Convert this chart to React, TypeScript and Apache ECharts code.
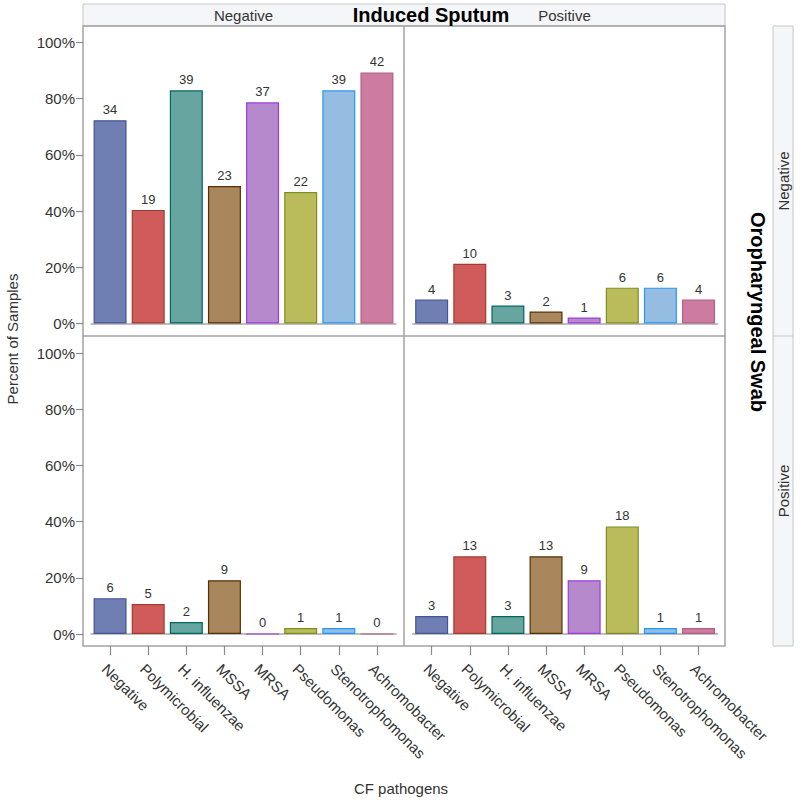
import React, { useEffect, useRef } from "react";
import * as echarts from "echarts";

// ---- Data ----
const categories = [
  "Negative",
  "Polymicrobial",
  "H. influenzae",
  "MSSA",
  "MRSA",
  "Pseudomonas",
  "Stenotrophomonas",
  "Achromobacter",
];
// Oropharyngeal Swab (row) x Induced Sputum (column) counts
const countsSwabNegSputumNeg = [34, 19, 39, 23, 37, 22, 39, 42];
const countsSwabNegSputumPos = [4, 10, 3, 2, 1, 6, 6, 4];
const countsSwabPosSputumNeg = [6, 5, 2, 9, 0, 1, 1, 0];
const countsSwabPosSputumPos = [3, 13, 3, 13, 9, 18, 1, 1];
const yTickValues = [0, 20, 40, 60, 80, 100];
const columnLabels = ["Negative", "Positive"];
const rowLabels = ["Negative", "Positive"];

const fillColors = ["#6F7EB3", "#D05B5B", "#66A5A0", "#A9865B", "#B689CD", "#BABC5C", "#94BDE1", "#CD7BA1"];
const edgeColors = ["#445694", "#A23A2E", "#01665E", "#543005", "#9D3CDB", "#7F8E1F", "#2597FA", "#B26084"];

const FONT = "'Liberation Sans', Arial, Helvetica, sans-serif";

export default function App() {
  const ref = useRef<HTMLDivElement>(null);

  useEffect(() => {
    if (!ref.current) return;
    const chart = echarts.init(ref.current, undefined, { renderer: "svg" });

    const panels = [
      countsSwabNegSputumNeg,
      countsSwabNegSputumPos,
      countsSwabPosSputumNeg,
      countsSwabPosSputumPos,
    ];
    const totals = categories.map((_, i) => panels.reduce((s, p) => s + p[i], 0));

    const panelLeft = 83, panelMid = 404, panelRight = 725;
    const panelTop = 26, panelMidY = 336, panelBottom = 646;

    const gridDefs = [
      { left: 91, top: 42.5, width: 305, height: 281 },
      { left: 412.6, top: 42.5, width: 305, height: 281 },
      { left: 91, top: 353, width: 305, height: 281 },
      { left: 412.6, top: 353, width: 305, height: 281 },
    ];

    const xAxes: any[] = gridDefs.map((_, i) => ({
      type: "category",
      gridIndex: i,
      data: categories,
      boundaryGap: true,
      axisLine: { show: true, lineStyle: { color: "#a9a9a9", width: 1.5 } },
      axisTick: { show: false },
      axisLabel: { show: false },
      splitLine: { show: false },
    }));
    [2, 3].forEach((g) => {
      xAxes.push({
        type: "category",
        gridIndex: g,
        data: categories,
        position: "bottom",
        offset: 12,
        boundaryGap: true,
        axisLine: { show: false },
        axisTick: { show: true, alignWithLabel: true, length: 9, lineStyle: { color: "#8a8a8a", width: 1.2 } },
        axisLabel: {
          show: true,
          interval: 0,
          rotate: -45,
          margin: 15,
          verticalAlign: "top",
          fontSize: 15,
          color: "#333",
          fontFamily: FONT,
        },
        splitLine: { show: false },
      });
    });

    const yAxes = gridDefs.map((_, i) => {
      const isLeft = i % 2 === 0;
      return {
        type: "value",
        gridIndex: i,
        min: yTickValues[0],
        max: yTickValues[yTickValues.length - 1],
        interval: 20,
        offset: isLeft ? 8 : 0,
        axisLine: { show: false },
        splitLine: { show: false },
        axisTick: { show: isLeft, length: 7, lineStyle: { color: "#8a8a8a", width: 1.2 } },
        axisLabel: {
          show: isLeft,
          formatter: "{value}%",
          fontSize: 15,
          color: "#333",
          margin: 8,
          fontFamily: FONT,
        },
      };
    });

    const series = panels.map((counts, i) => ({
      type: "bar",
      xAxisIndex: i,
      yAxisIndex: i,
      barWidth: 33,
      data: counts.map((c, k) => ({
        value: (c / totals[k]) * 100,
        itemStyle: { color: fillColors[k], borderColor: edgeColors[k], borderWidth: 1.2 },
      })),
      label: {
        show: true,
        position: "top",
        distance: 4,
        fontSize: 13,
        color: "#333",
        fontFamily: FONT,
        formatter: (p: any) => String(counts[p.dataIndex]),
      },
    }));

    const frameColor = "#a3a3a3";
    const stripFill = "#f5f6f9";
    const stripStroke = "#c6c6c6";

    const graphic: any[] = [
      // column header strip
      {
        type: "rect",
        shape: { x: panelLeft, y: 4, width: panelRight - panelLeft, height: panelTop - 4 },
        style: { fill: stripFill, stroke: stripStroke, lineWidth: 1 },
      },
      {
        type: "text",
        x: (panelLeft + panelMid) / 2,
        y: 15.5,
        style: { text: columnLabels[0], fill: "#333", font: `15px ${FONT}`, align: "center", verticalAlign: "middle" },
      },
      {
        type: "text",
        x: (panelMid + panelRight) / 2,
        y: 15.5,
        style: { text: columnLabels[1], fill: "#333", font: `15px ${FONT}`, align: "center", verticalAlign: "middle" },
      },
      {
        type: "text",
        x: 431,
        y: 15,
        z: 10,
        style: { text: "Induced Sputum", fill: "#000", font: `bold 20px ${FONT}`, align: "center", verticalAlign: "middle" },
      },
      // right row strip
      {
        type: "rect",
        shape: { x: 773, y: panelTop, width: 20, height: panelBottom - panelTop },
        style: { fill: stripFill, stroke: stripStroke, lineWidth: 1 },
      },
      {
        type: "line",
        shape: { x1: 773, y1: panelMidY, x2: 793, y2: panelMidY },
        style: { stroke: stripStroke, lineWidth: 1 },
      },
      {
        type: "text",
        x: 783.5,
        y: (panelTop + panelMidY) / 2,
        rotation: Math.PI / 2,
        style: { text: rowLabels[0], fill: "#333", font: `15px ${FONT}`, align: "center", verticalAlign: "middle" },
      },
      {
        type: "text",
        x: 783.5,
        y: (panelMidY + panelBottom) / 2,
        rotation: Math.PI / 2,
        style: { text: rowLabels[1], fill: "#333", font: `15px ${FONT}`, align: "center", verticalAlign: "middle" },
      },
      {
        type: "text",
        x: 758,
        y: 312,
        rotation: -Math.PI / 2,
        style: { text: "Oropharyngeal Swab", fill: "#000", font: `bold 20px ${FONT}`, align: "center", verticalAlign: "middle" },
      },
      // panel frames
      {
        type: "rect",
        shape: { x: panelLeft, y: panelTop, width: panelRight - panelLeft, height: panelBottom - panelTop },
        style: { fill: "none", stroke: frameColor, lineWidth: 1.5 },
      },
      {
        type: "line",
        shape: { x1: panelMid, y1: panelTop, x2: panelMid, y2: panelBottom },
        style: { stroke: frameColor, lineWidth: 1.5 },
      },
      {
        type: "line",
        shape: { x1: panelLeft, y1: panelMidY, x2: panelRight, y2: panelMidY },
        style: { stroke: frameColor, lineWidth: 1.5 },
      },
      // axis titles
      {
        type: "text",
        x: 12,
        y: 339,
        rotation: Math.PI / 2,
        style: { text: "Percent of Samples", fill: "#333", font: `15px ${FONT}`, align: "center", verticalAlign: "middle" },
      },
      {
        type: "text",
        x: 401,
        y: 788,
        style: { text: "CF pathogens", fill: "#333", font: `15px ${FONT}`, align: "center", verticalAlign: "middle" },
      },
    ];

    chart.setOption({
      animation: false,
      backgroundColor: "#ffffff",
      grid: gridDefs.map((g) => ({ ...g, containLabel: false })),
      xAxis: xAxes,
      yAxis: yAxes,
      series,
      graphic,
    });

    return () => chart.dispose();
  }, []);

  return (
    <div
      ref={ref}
      style={{ position: "absolute", left: 0, top: 0, width: 800, height: 802, background: "#fff" }}
    />
  );
}
